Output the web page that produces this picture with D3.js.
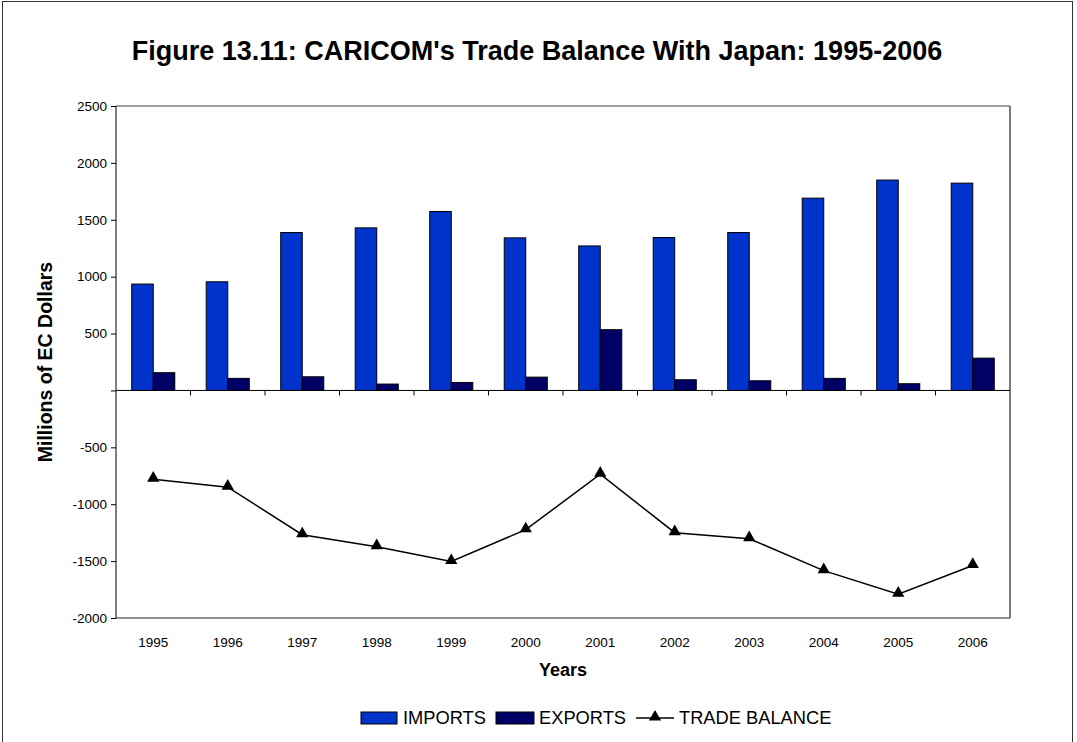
<!DOCTYPE html>
<html lang="en">
<head>
	<meta charset="UTF-8">
	<script src="https://d3js.org/d3.v7.min.js"></script>
	<style>
	body { margin: 0; background: #fff; }
	svg { font-family: Arial, "Liberation Sans", sans-serif; }
	</style>
	<title>CARICOM Trade Balance With Japan</title>
</head>
<body>
	<div id="chart"></div>
	<script>
		// values (millions of EC dollars)
		const years = ["1995", "1996", "1997", "1998", "1999", "2000", "2001", "2002", "2003", "2004", "2005", "2006"];
		const imports = [935, 955, 1388, 1429, 1573, 1341, 1270, 1344, 1388, 1690, 1849, 1822];
		const exports = [156, 106, 120, 56, 70, 117, 534, 94, 85, 106, 59, 284];
		const balance = [-780, -850, -1268, -1373, -1503, -1224, -736, -1250, -1303, -1584, -1790, -1538];
		const yTicks = [-2000, -1500, -1000, -500, 0, 500, 1000, 1500, 2000, 2500];

		const seriesNames = ["IMPORTS", "EXPORTS"];
		const colors = { IMPORTS: "#0033cc", EXPORTS: "#000066" };

		const width = 1077, height = 742;
		const plot = { left: 116, right: 1010, top: 106, bottom: 618 };

		const svg = d3.select("#chart").append("svg")
			.attr("width", width)
			.attr("height", height);

		// outer chart frame
		svg.append("rect")
			.attr("x", 2.5).attr("y", 1.5)
			.attr("width", 1070).attr("height", 800)
			.attr("fill", "none")
			.attr("stroke", "#333");

		svg.append("text")
			.attr("x", 537).attr("y", 60)
			.attr("text-anchor", "middle")
			.attr("font-weight", "bold")
			.attr("font-size", 27)
			.text("Figure 13.11: CARICOM's Trade Balance With Japan: 1995-2006");

		const x = d3.scaleBand()
			.domain(years)
			.range([plot.left, plot.right]);

		const xInner = d3.scaleBand()
			.domain(seriesNames)
			.range([0, x.bandwidth()])
			.paddingOuter(0.73);

		const y = d3.scaleLinear()
			.domain([-2000, 2500])
			.range([plot.bottom, plot.top]);

		// plot area border
		svg.append("line")
			.attr("x1", plot.left).attr("x2", plot.right)
			.attr("y1", y(2500)).attr("y2", y(2500))
			.attr("stroke", "#808080").attr("stroke-width", 1.5);
		svg.append("line")
			.attr("x1", plot.right).attr("x2", plot.right)
			.attr("y1", y(2500)).attr("y2", y(-2000))
			.attr("stroke", "#222").attr("stroke-width", 1.2);
		svg.append("line")
			.attr("x1", plot.left).attr("x2", plot.right)
			.attr("y1", y(-2000)).attr("y2", y(-2000))
			.attr("stroke", "#222").attr("stroke-width", 1.2);

		// bars
		const groups = svg.append("g")
			.selectAll("g")
			.data(years)
			.join("g")
			.attr("transform", d => "translate(" + x(d) + ",0)");

		groups.selectAll("rect")
			.data((d, i) => [
				{ key: "IMPORTS", value: imports[i] },
				{ key: "EXPORTS", value: exports[i] }
			])
			.join("rect")
			.attr("x", d => xInner(d.key))
			.attr("width", xInner.bandwidth())
			.attr("y", d => y(d.value))
			.attr("height", d => y(0) - y(d.value))
			.attr("fill", d => colors[d.key])
			.attr("stroke", "#000")
			.attr("stroke-width", 1);

		// y axis
		const yAxis = svg.append("g")
			.attr("transform", "translate(" + plot.left + ",0)")
			.call(d3.axisLeft(y)
				.tickValues(yTicks)
				.tickSize(5)
				.tickPadding(4)
				.tickFormat(d => d === 0 ? "" : d));
		yAxis.select(".domain").attr("d", "M0," + y(2500) + "V" + y(-2000)).attr("stroke", "#000");
		yAxis.selectAll("text").attr("font-size", 13.5).attr("font-family", "Arial, 'Liberation Sans', sans-serif").attr("fill", "#000");

		// category axis on the zero line
		const xAxis = svg.append("g")
			.attr("transform", "translate(0," + y(0) + ")")
			.call(d3.axisBottom(x).tickSize(0).tickFormat(""));
		xAxis.select(".domain").attr("d", "M" + plot.left + ",0H" + plot.right).attr("stroke", "#000");
		xAxis.selectAll(".sep")
			.data(years.slice(1))
			.join("line")
			.attr("class", "sep")
			.attr("x1", d => x(d)).attr("x2", d => x(d))
			.attr("y1", 0).attr("y2", 5)
			.attr("stroke", "#000");

		// category labels below the plot
		svg.append("g")
			.selectAll("text")
			.data(years)
			.join("text")
			.attr("x", d => x(d) + x.bandwidth() / 2)
			.attr("y", 647)
			.attr("text-anchor", "middle")
			.attr("font-size", 13.5)
			.text(d => d);

		// trade balance line
		const line = d3.line()
			.x((d, i) => x(years[i]) + x.bandwidth() / 2)
			.y(d => y(d));

		svg.append("path")
			.datum(balance)
			.attr("d", line)
			.attr("fill", "none")
			.attr("stroke", "#000")
			.attr("stroke-width", 1.5);

		const tri = d3.symbol().type(d3.symbolTriangle).size(65);
		svg.append("g")
			.selectAll("path")
			.data(balance)
			.join("path")
			.attr("d", tri)
			.attr("transform", (d, i) => "translate(" + (x(years[i]) + x.bandwidth() / 2) + "," + (y(d) - 1) + ")")
			.attr("fill", "#000");

		// axis titles
		svg.append("text")
			.attr("x", (plot.left + plot.right) / 2)
			.attr("y", 676)
			.attr("text-anchor", "middle")
			.attr("font-weight", "bold")
			.attr("font-size", 18)
			.text("Years");

		svg.append("text")
			.attr("transform", "translate(52," + ((plot.top + plot.bottom) / 2) + ") rotate(-90)")
			.attr("text-anchor", "middle")
			.attr("font-weight", "bold")
			.attr("font-size", 19.5)
			.text("Millions of EC Dollars");

		// legend
		const legend = svg.append("g").attr("font-size", 18.3);
		legend.append("rect")
			.attr("x", 361).attr("y", 712).attr("width", 36).attr("height", 12)
			.attr("fill", colors.IMPORTS).attr("stroke", "#000");
		legend.append("text").attr("x", 403).attr("y", 724).text("IMPORTS");
		legend.append("rect")
			.attr("x", 496).attr("y", 712).attr("width", 38).attr("height", 12)
			.attr("fill", colors.EXPORTS).attr("stroke", "#000");
		legend.append("text").attr("x", 539).attr("y", 724).text("EXPORTS");
		legend.append("line")
			.attr("x1", 636).attr("x2", 674).attr("y1", 718).attr("y2", 718)
			.attr("stroke", "#000").attr("stroke-width", 1.5);
		legend.append("path")
			.attr("d", tri)
			.attr("transform", "translate(655,717)")
			.attr("fill", "#000");
		legend.append("text").attr("x", 679).attr("y", 724).text("TRADE BALANCE");
	</script>
</body>
</html>
